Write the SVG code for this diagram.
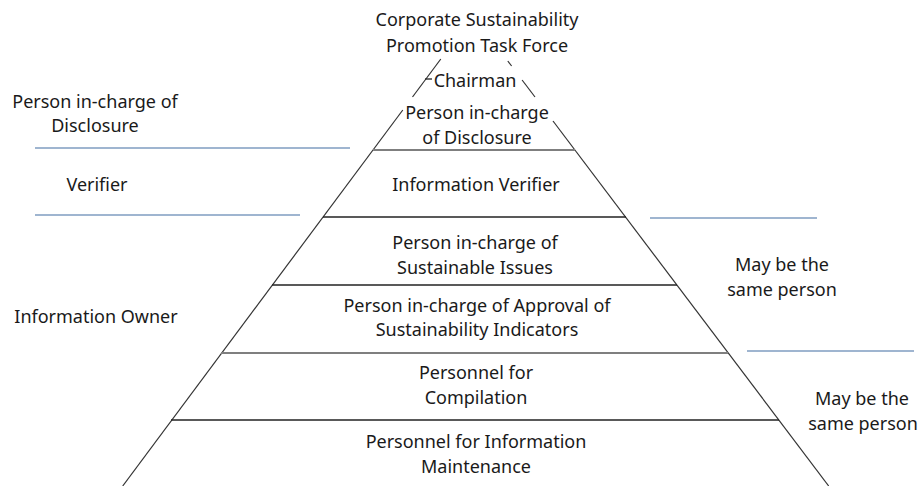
<svg xmlns="http://www.w3.org/2000/svg" width="921" height="486" viewBox="0 0 921 486">
  <style>
    .t { font-family: "Noto Sans", "Open Sans", sans-serif; font-size: 18px; fill: #1a1a1a; text-anchor: middle; }
    .edge { stroke: #333; stroke-width: 1.2; fill: none; }
    .tier { stroke: #222; stroke-width: 1.3; }
    .tier-g { stroke: #7f7f7f; stroke-width: 2; }
    .guide { stroke: #7f9cc0; stroke-width: 1.3; }
  </style>
  <rect width="921" height="486" fill="#ffffff"/>

  <!-- pyramid outline and tier dividers -->
  <g id="connectors">
    <line class="edge" x1="440.8" y1="59" x2="412.5" y2="97"/>
    <line class="edge" x1="402.8" y1="110" x2="122.7" y2="486"/>
    <line class="edge" x1="507.8" y1="61" x2="511.6" y2="66"/>
    <line class="edge" x1="522.1" y1="80" x2="535" y2="97"/>
    <line class="edge" x1="553" y1="121" x2="828.7" y2="486"/>
    <line class="tier" x1="425" y1="79" x2="432" y2="79"/>
    <line class="tier-g" x1="373" y1="150" x2="575" y2="150"/>
    <line class="tier" x1="323" y1="217" x2="626" y2="217"/>
    <line class="tier" x1="272" y1="285" x2="677" y2="285"/>
    <line class="tier-g" x1="221" y1="353" x2="728" y2="353"/>
    <line class="tier" x1="171" y1="420" x2="779" y2="420"/>
    <!-- side guide lines -->
    <line class="guide" x1="35" y1="148" x2="350" y2="148"/>
    <line class="guide" x1="35" y1="215" x2="300" y2="215"/>
    <line class="guide" x1="650" y1="218" x2="817" y2="218"/>
    <line class="guide" x1="747" y1="351" x2="914" y2="351"/>
  </g>

  <g id="task-force">
    <text class="t" x="477" y="26">Corporate Sustainability</text>
    <text class="t" x="477" y="52">Promotion Task Force</text>
  </g>
  <g id="chairman">
    <text class="t" x="475" y="87">Chairman</text>
  </g>
  <g id="disclosure">
    <text class="t" x="477" y="119">Person in-charge</text>
    <text class="t" x="477" y="144">of Disclosure</text>
  </g>
  <g id="verifier">
    <text class="t" x="476" y="191">Information Verifier</text>
  </g>
  <g id="issues">
    <text class="t" x="475" y="249">Person in-charge of</text>
    <text class="t" x="475" y="274">Sustainable Issues</text>
  </g>
  <g id="approval">
    <text class="t" x="477" y="312">Person in-charge of Approval of</text>
    <text class="t" x="477" y="336">Sustainability Indicators</text>
  </g>
  <g id="compilation">
    <text class="t" x="476" y="379">Personnel for</text>
    <text class="t" x="476" y="404">Compilation</text>
  </g>
  <g id="maintenance">
    <text class="t" x="476" y="448">Personnel for Information</text>
    <text class="t" x="476" y="473">Maintenance</text>
  </g>

  <g id="label-disclosure">
    <text class="t" x="95" y="108">Person in-charge of</text>
    <text class="t" x="95" y="132">Disclosure</text>
  </g>
  <g id="label-verifier">
    <text class="t" x="97" y="191">Verifier</text>
  </g>
  <g id="label-owner">
    <text class="t" x="96" y="323">Information Owner</text>
  </g>
  <g id="note-upper">
    <text class="t" x="782" y="271">May be the</text>
    <text class="t" x="782" y="296">same person</text>
  </g>
  <g id="note-lower">
    <text class="t" x="862" y="405">May be the</text>
    <text class="t" x="863" y="430">same person</text>
  </g>
</svg>
